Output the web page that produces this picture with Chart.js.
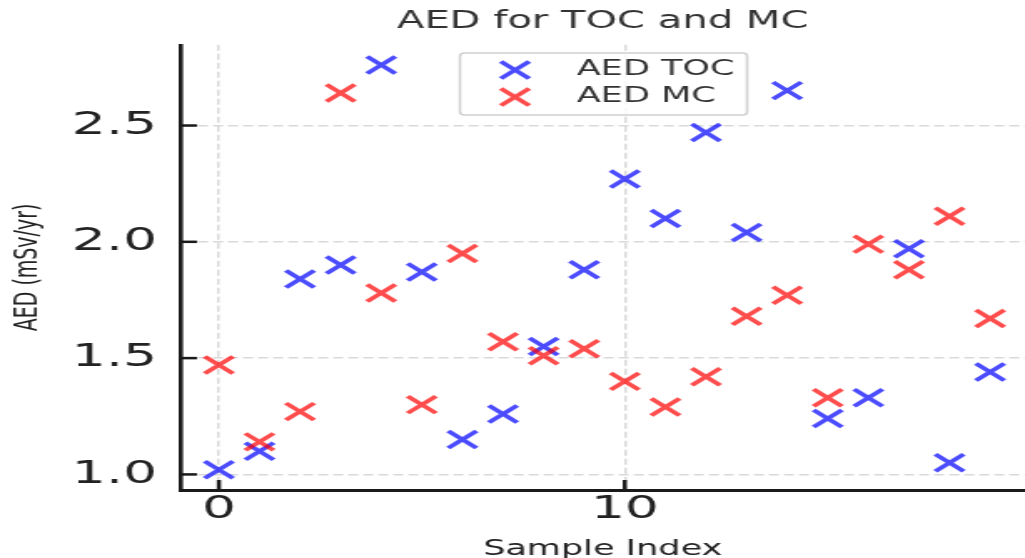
<!DOCTYPE html>
<html>
<head>
<meta charset="utf-8">
<script src="https://cdn.jsdelivr.net/npm/chart.js@4/dist/chart.umd.min.js"></script>
<style>
  html, body { margin: 0; padding: 0; background: #fff; overflow: hidden; }
  /* the reference is a stretched figure: draw at 614px and widen to 1025px */
  #wrap { width: 614px; height: 558px; transform: scaleX(1.6694); transform-origin: 0 0; }
</style>
</head>
<body>
<div id="wrap"><canvas id="grafico" width="614" height="558"></canvas></div>
<script>
// ==========================================
// DADOS
// ==========================================
const sampleIndex = [0, 1, 2, 3, 4, 5, 6, 7, 8, 9, 10, 11, 12, 13, 14, 15, 16, 17, 18, 19];
const aedTOC = [1.02, 1.10, 1.84, 1.90, 2.76, 1.87, 1.15, 1.26, 1.55, 1.88,
                2.27, 2.10, 2.47, 2.04, 2.65, 1.24, 1.33, 1.97, 1.05, 1.44];
const aedMC  = [1.47, 1.14, 1.27, 2.64, 1.78, 1.30, 1.95, 1.57, 1.51, 1.54,
                1.40, 1.29, 1.42, 1.68, 1.77, 1.33, 1.99, 1.88, 2.11, 1.67];
const yTicks = [1.0, 1.5, 2.0, 2.5];
const xTicks = [0, 10];

const FONTE = '"DejaVu Sans", sans-serif';
const AZUL = 'rgba(0, 0, 255, 0.7)';
const VERMELHO = 'rgba(255, 0, 0, 0.7)';

function pontos(valores) {
    return sampleIndex.map((i, k) => ({ x: i, y: valores[k] }));
}

// ticks para dentro + legenda com caixa (estilo matplotlib)
const extras = {
    id: 'extras',
    beforeDatasetsDraw(chart) {
        const { ctx, chartArea: a, scales: { x, y } } = chart;
        ctx.save();
        ctx.strokeStyle = '#1a1a1a';
        ctx.lineWidth = 2.5;
        y.ticks.forEach(t => {
            let py = y.getPixelForValue(t.value);
            ctx.beginPath(); ctx.moveTo(a.left, py); ctx.lineTo(a.left + 10, py); ctx.stroke();
        });
        x.ticks.forEach(t => {
            let px = x.getPixelForValue(t.value);
            ctx.beginPath(); ctx.moveTo(px, a.bottom); ctx.lineTo(px, a.bottom - 10); ctx.stroke();
        });
        ctx.restore();
    },
    afterDatasetsDraw(chart) {
        const { ctx } = chart;
        ctx.save();
        ctx.beginPath();
        ctx.roundRect(275.5, 53, 172, 62, 3);
        ctx.fillStyle = 'rgba(255,255,255,0.8)';
        ctx.fill();
        ctx.strokeStyle = '#cfcfcf';
        ctx.lineWidth = 1.5;
        ctx.stroke();

        chart.data.datasets.forEach((ds, i) => {
            let ly = 70 + i * 27;
            ctx.strokeStyle = ds.borderColor;
            ctx.lineWidth = ds.pointBorderWidth;
            Chart.helpers.drawPoint(ctx, { pointStyle: 'crossRot', radius: ds.pointRadius, rotation: 0, borderWidth: ds.pointBorderWidth }, 308.5, ly);
            ctx.fillStyle = '#333';
            ctx.font = '21px ' + FONTE;
            ctx.textBaseline = 'middle';
            ctx.textAlign = 'left';
            ctx.fillText(ds.label, 345.5, ly);
        });
        ctx.restore();
    }
};

const eixoGrid = { color: '#d9d9d9', lineWidth: 1.5, drawTicks: false };

new Chart(document.getElementById('grafico'), {
    type: 'scatter',
    data: {
        datasets: [
            { label: 'AED TOC', data: pontos(aedTOC), borderColor: AZUL, backgroundColor: AZUL,
              pointStyle: 'crossRot', pointRadius: 12, pointBorderWidth: 3.5, order: 2, clip: false },
            { label: 'AED MC', data: pontos(aedMC), borderColor: VERMELHO, backgroundColor: VERMELHO,
              pointStyle: 'crossRot', pointRadius: 12, pointBorderWidth: 3.5, order: 1, clip: false }
        ]
    },
    options: {
        responsive: false,
        animation: false,
        layout: { padding: 0, autoPadding: false },
        plugins: {
            legend: { display: false },
            tooltip: { enabled: false },
            title: {
                display: true, text: 'AED for TOC and MC', fullSize: false,
                color: '#333', font: { family: FONTE, size: 24, weight: 'normal' },
                padding: { top: 7, bottom: 9 }
            }
        },
        scales: {
            x: {
                type: 'linear', min: -0.95, max: 19.86,
                afterFit: s => { s.height = 68; s.paddingLeft = 0; s.paddingRight = 0; },
                afterBuildTicks: s => { s.ticks = xTicks.map(v => ({ value: v })); },
                ticks: { padding: 0, color: '#222', font: { family: FONTE, size: 32 }, maxRotation: 0 },
                grid: eixoGrid,
                border: { display: true, color: '#1a1a1a', width: 3, dash: [6, 3] },
                title: { display: true, text: 'Sample Index', color: '#222',
                         font: { family: FONTE, size: 21 }, padding: { top: 0, bottom: -4 } }
            },
            y: {
                min: 0.933, max: 2.847,
                afterFit: s => { s.width = 108; s.paddingTop = 0; s.paddingBottom = 0; },
                afterBuildTicks: s => { s.ticks = yTicks.map(v => ({ value: v })); },
                ticks: { padding: 14, color: '#222', font: { family: FONTE, size: 32 },
                         callback: v => v.toFixed(1) },
                grid: eixoGrid,
                border: { display: true, color: '#1a1a1a', width: 2.6, dash: [6, 3] },
                title: { display: true, text: 'AED (mSv/yr)', color: '#222',
                         font: { family: FONTE, size: 19 }, padding: { top: 6, bottom: 0 } }
            }
        }
    },
    plugins: [extras]
});
</script>
</body>
</html>
